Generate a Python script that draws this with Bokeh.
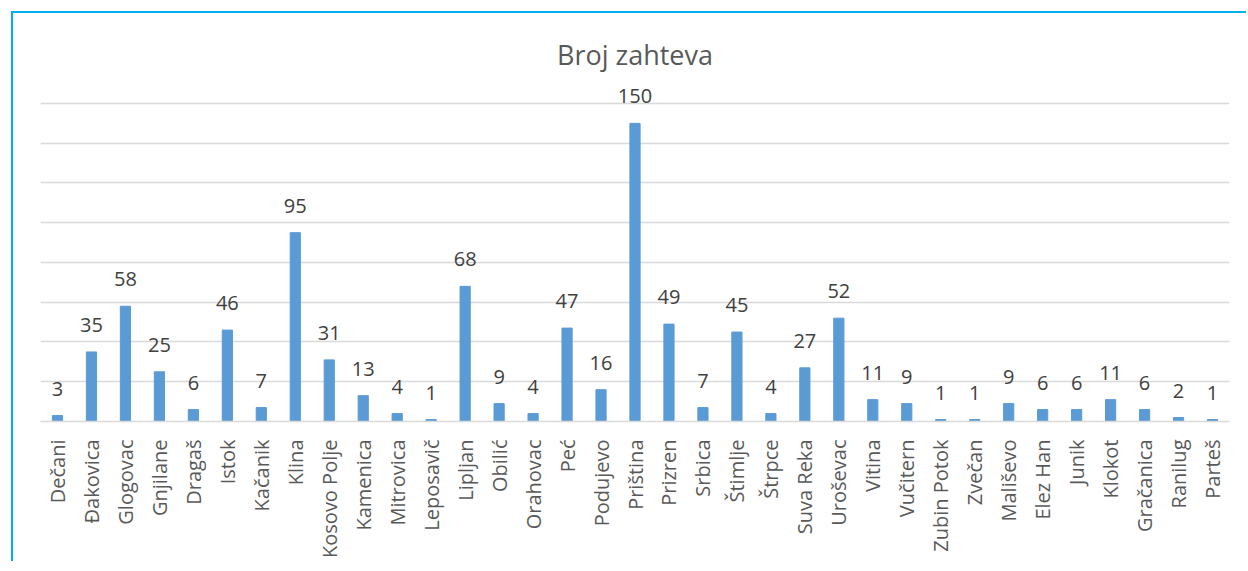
from bokeh.plotting import figure
from bokeh.models import ColumnDataSource, Range1d, FixedTicker, LabelSet
from bokeh.core.properties import value
from bokeh.embed import file_html
from bokeh.resources import INLINE
import math

categories = ["Dečani", "Đakovica", "Glogovac", "Gnjilane", "Dragaš", "Istok", "Kačanik", "Klina",
              "Kosovo Polje", "Kamenica", "Mitrovica", "Leposavič", "Lipljan", "Obilić", "Orahovac",
              "Peć", "Podujevo", "Priština", "Prizren", "Srbica", "Štimlje", "Štrpce", "Suva Reka",
              "Uroševac", "Vitina", "Vučitern", "Zubin Potok", "Zvečan", "Mališevo", "Elez Han",
              "Junik", "Klokot", "Gračanica", "Ranilug", "Parteš"]
values = [3, 35, 58, 25, 6, 46, 7, 95, 31, 13, 4, 1, 68, 9, 4, 47, 16, 150, 49, 7, 45, 4, 27,
          52, 11, 9, 1, 1, 9, 6, 6, 11, 6, 2, 1]
y_ticks = [0, 20, 40, 60, 80, 100, 120, 140, 160]
title_text = "Broj zahteva"

src = ColumnDataSource(dict(cat=categories, val=values, lbl=[str(v) for v in values]))

p = figure(x_range=categories, y_range=Range1d(0, 168.05), width=1235, height=550,
           output_backend="svg", toolbar_location=None, title=title_text,
           min_border_left=27, min_border_right=19, min_border_top=74, min_border_bottom=142)
p.styles = {"border-left": "2px solid #00B0F0", "border-top": "2px solid #00B0F0",
            "margin-left": "11px", "margin-top": "11px"}
p.outline_line_color = None
p.background_fill_color = "white"

p.title.align = "center"
p.title.text_font = "Open Sans"
p.title.text_font_size = "27px"
p.title.text_font_style = "normal"
p.title.text_color = "#595959"
p.title.standoff = 29

p.vbar(x="cat", top="val", width=0.3, source=src, color="#5B9BD5")
labels = LabelSet(x="cat", y="val", text="lbl", source=src, text_align="center",
                  text_baseline="alphabetic", y_offset=20, text_font=value("Open Sans"),
                  text_font_size=value("20px"), text_color=value("#404040"))
p.add_layout(labels)

p.yaxis.visible = False
p.ygrid.ticker = FixedTicker(ticks=y_ticks)
p.ygrid.grid_line_color = "#D9D9D9"
p.ygrid.grid_line_width = 1.5
p.xgrid.grid_line_color = None

ax = p.xaxis[0]
ax.axis_line_color = "#D9D9D9"
ax.axis_line_width = 1.5
ax.major_tick_line_color = None
ax.minor_tick_line_color = None
ax.major_label_orientation = math.pi / 2
ax.major_label_text_font = "Open Sans"
ax.major_label_text_font_size = "20px"
ax.major_label_text_color = "#595959"
ax.major_label_standoff = 12
p.x_range.range_padding = 0

open("out.html", "w").write(file_html(p, INLINE))
